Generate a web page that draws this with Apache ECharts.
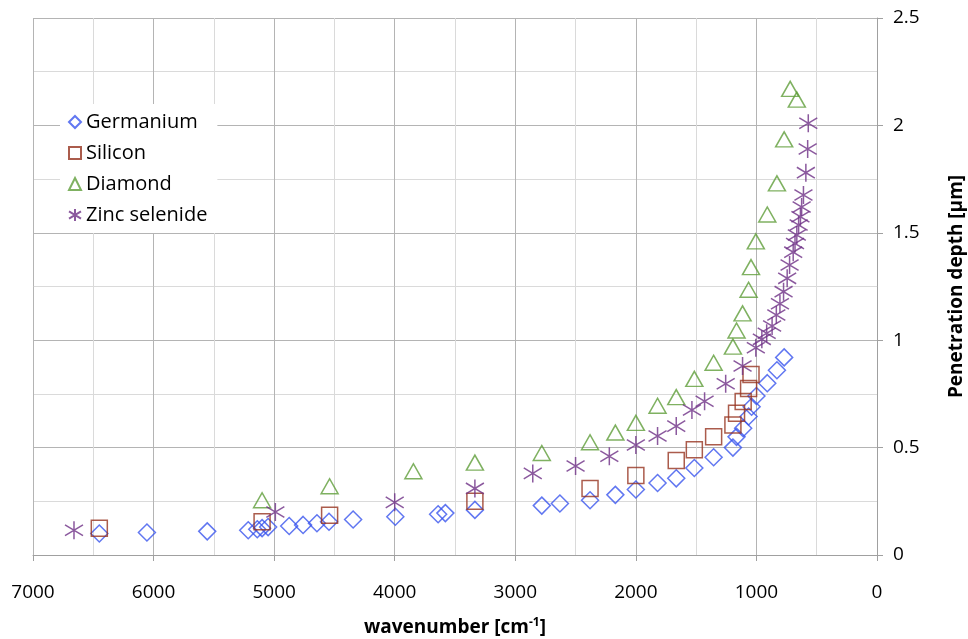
<!DOCTYPE html>
<html>
<head>
<meta charset="utf-8">
<script src="https://cdn.jsdelivr.net/npm/echarts@6/dist/echarts.min.js"></script>
<style>
html,body{margin:0;padding:0;background:#fff;}
#chart{width:968px;height:639px;}
</style>
</head>
<body>
<div id="chart"></div>
<script>
// ---- data ----
const seriesNames = ['Germanium', 'Silicon', 'Diamond', 'Zinc selenide'];

const geX = [6450, 6055, 5555, 5215, 5140, 5100, 5050, 4875, 4760, 4645, 4545, 4345, 3995, 3640, 3580, 3335, 2780, 2630, 2380, 2170, 2000, 1820, 1665, 1515, 1355, 1195, 1165, 1110, 1065, 1040, 1000, 910, 830, 770];
const geY = [0.10, 0.105, 0.11, 0.115, 0.12, 0.125, 0.13, 0.135, 0.14, 0.148, 0.155, 0.165, 0.178, 0.19, 0.195, 0.21, 0.23, 0.24, 0.255, 0.28, 0.305, 0.335, 0.357, 0.405, 0.455, 0.50, 0.55, 0.59, 0.645, 0.69, 0.74, 0.80, 0.86, 0.92];

const siX = [6450, 5100, 4540, 3335, 2380, 2000, 1665, 1515, 1355, 1195, 1165, 1110, 1065, 1045];
const siY = [0.125, 0.155, 0.185, 0.25, 0.31, 0.37, 0.44, 0.49, 0.55, 0.605, 0.66, 0.715, 0.775, 0.84];

const diX = [5100, 4540, 3845, 3335, 2780, 2380, 2170, 2000, 1820, 1665, 1515, 1355, 1195, 1165, 1115, 1065, 1045, 1005, 910, 830, 770, 720, 665];
const diY = [0.255, 0.32, 0.39, 0.43, 0.475, 0.525, 0.57, 0.615, 0.695, 0.735, 0.82, 0.895, 0.97, 1.045, 1.125, 1.235, 1.34, 1.46, 1.585, 1.73, 1.935, 2.17, 2.12];

const znX = [6660, 4990, 4000, 3335, 2855, 2500, 2220, 2000, 1820, 1665, 1535, 1430, 1255, 1115, 1005, 955, 915, 870, 835, 805, 775, 745, 725, 695, 680, 665, 650, 635, 625, 610, 590, 575, 570];
const znY = [0.115, 0.20, 0.245, 0.31, 0.38, 0.414, 0.46, 0.512, 0.554, 0.60, 0.675, 0.716, 0.797, 0.88, 0.965, 1.004, 1.032, 1.066, 1.117, 1.17, 1.226, 1.288, 1.35, 1.41, 1.45, 1.49, 1.536, 1.575, 1.62, 1.676, 1.78, 1.89, 2.01];

const xTicks = [7000, 6000, 5000, 4000, 3000, 2000, 1000, 0];
const yTicks = [0, 0.5, 1, 1.5, 2, 2.5];

// ---- build ----
const zip = (xs, ys) => xs.map((x, i) => [x, ys[i]]);
const FONT = 'Open Sans';
const asterisk = 'path://M10,0 L10,20 M0,4 L20,16 M0,16 L20,4';

const styles = [
  {symbol: 'diamond', size: [17, 17], color: '#3a55ee'},
  {symbol: 'rect', size: [16, 16], color: '#96331f'},
  {symbol: 'triangle', size: [17, 15], color: '#5f9e3a'},
  {symbol: asterisk, size: [18, 18], color: '#6e2f86'}
];
const datas = [zip(geX, geY), zip(siX, siY), zip(diX, diY), zip(znX, znY)];

const series = seriesNames.map((n, i) => ({
  name: n,
  type: 'scatter',
  data: datas[i],
  symbol: styles[i].symbol,
  symbolSize: styles[i].size,
  itemStyle: {color: 'rgba(0,0,0,0)', borderColor: styles[i].color, borderWidth: 1.5},
  emphasis: {disabled: true},
  z: 2 + i
}));

const chart = echarts.init(document.getElementById('chart'), null, {renderer: 'canvas'});
chart.setOption({
  animation: false,
  backgroundColor: '#fff',
  grid: {left: 33, right: 91, top: 18, bottom: 84, containLabel: false, outerBoundsMode: 'none'},
  legend: {
    orient: 'vertical',
    left: 60, top: 104,
    padding: [8, 10, 8, 8],
    backgroundColor: '#fff',
    itemWidth: 12, itemHeight: 12,
    itemGap: 11,
    textStyle: {fontFamily: FONT, fontSize: 20, color: '#000'},
    data: seriesNames
  },
  xAxis: {
    type: 'value', inverse: true, min: 0, max: 7000, interval: 1000,
    position: 'bottom',
    name: '{a|wavenumber [cm}{s|-1}{a|]}',
    nameLocation: 'middle', nameGap: 62,
    nameTextStyle: {
      rich: {
        a: {fontFamily: FONT, fontSize: 19, fontWeight: 'bold', color: '#000'},
        s: {fontFamily: FONT, fontSize: 12, fontWeight: 'bold', color: '#000', verticalAlign: 'top', padding: [0, 0, 10, 0]}
      }
    },
    axisLine: {show: true, lineStyle: {color: '#a0a0a0', width: 1}},
    axisTick: {show: true, length: 6, lineStyle: {color: '#a0a0a0'}},
    axisLabel: {margin: 28, fontFamily: FONT, fontSize: 19, color: '#000',
      formatter: v => xTicks.includes(v) ? String(v) : ''},
    splitLine: {show: true, lineStyle: {color: '#b4b4b4', width: 1}},
    minorTick: {show: false, splitNumber: 2},
    minorSplitLine: {show: true, lineStyle: {color: '#dadada', width: 1}}
  },
  yAxis: {
    type: 'value', min: 0, max: 2.5, interval: 0.5,
    position: 'right',
    name: 'Penetration depth [μm]',
    nameLocation: 'middle', nameGap: 70, nameRotate: 90,
    nameTextStyle: {fontFamily: FONT, fontSize: 19, fontWeight: 'bold', color: '#000'},
    axisLine: {show: true, lineStyle: {color: '#a0a0a0', width: 1}},
    axisTick: {show: true, length: 6, lineStyle: {color: '#a0a0a0'}},
    axisLabel: {margin: 16, fontFamily: FONT, fontSize: 19, color: '#000',
      formatter: v => yTicks.includes(v) ? String(v) : ''},
    splitLine: {show: true, lineStyle: {color: '#b4b4b4', width: 1}},
    minorTick: {show: false, splitNumber: 2},
    minorSplitLine: {show: true, lineStyle: {color: '#dadada', width: 1}}
  },
  series: series
});
</script>
</body>
</html>
